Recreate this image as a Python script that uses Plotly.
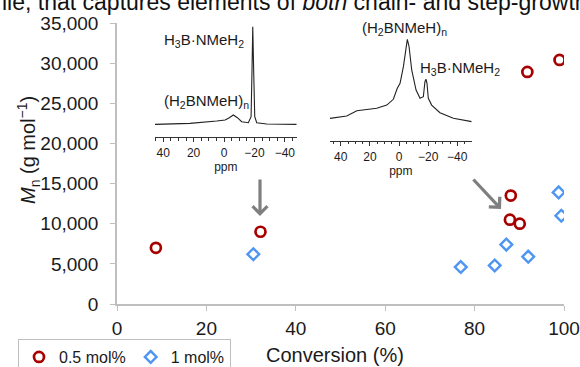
import plotly.graph_objects as go

# ---- main scatter data ----
red_x = [8.7, 32.1, 87.9, 88.1, 90.1, 91.8, 99.0]
red_y = [7000, 9000, 10500, 13500, 10000, 28900, 30400]
blue_x = [30.5, 76.9, 84.5, 87.1, 92.0, 98.8, 99.4]
blue_y = [6200, 4600, 4800, 7400, 5900, 13900, 11000]
series_names = ["0.5 mol%", "1 mol%"]
x_ticks = [0, 20, 40, 60, 80, 100]
y_ticks = [0, 5000, 10000, 15000, 20000, 25000, 30000, 35000]

# ---- inset spectra ----
spec1_ppm = [45.4, 22.4, 4.8, -0.7, -3.5, -6.1, -8.8, -11.6, -16.0, -17.8, -18.4, -18.9,
             -19.5, -20.2, -21.5, -28.1, -47.8]
spec1_int = [11.4, 12.3, 14.4, 15.3, 17.4, 19.8, 17.4, 13.8, 12.9, 18.3, 60, 99.4,
             60, 18.3, 12.9, 11.7, 11.4]
spec2_ppm = [47.4, 35.9, 29.0, 24.5, 15.3, 8.4, 3.9, 1.2, -0.7, -3.0, -4.6, -5.7, -6.9,
             -8.7, -11.7, -14.4, -16.7, -17.8, -18.5, -19.2, -20.1, -22.4, -28.1, -37.3, -49.9]
spec2_int = [20.2, 22.3, 27.1, 27.7, 29.3, 32.2, 37.4, 47.3, 51.9, 66.9, 84.9, 91.6, 84.9,
             63.9, 45.8, 38.3, 39.7, 53.3, 55.5, 51.9, 38.3, 32.2, 25.3, 20.2, 17.2]
ppm_ticks = [40, 20, 0, -20, -40]

RED = "#A80000"
BLUE = "#4F95F2"
AX = "#BFBFBF"
TXT = "#1a1a1a"
FONT = "Liberation Sans, Arial, sans-serif"

fig = go.Figure()
fig.add_trace(go.Scatter(x=red_x, y=red_y, mode="markers", name=series_names[0],
                         marker=dict(symbol="circle-open", size=10, color=RED,
                                     line=dict(width=2.7, color=RED))))
fig.add_trace(go.Scatter(x=blue_x, y=blue_y, mode="markers", name=series_names[1],
                         marker=dict(symbol="diamond-open", size=9, color=BLUE,
                                     line=dict(width=2.4, color=BLUE))))
fig.add_trace(go.Scatter(x=spec1_ppm, y=spec1_int, mode="lines", xaxis="x2", yaxis="y2",
                         line=dict(color="#222", width=1.1), showlegend=False, hoverinfo="skip"))
fig.add_trace(go.Scatter(x=spec2_ppm, y=spec2_int, mode="lines", xaxis="x3", yaxis="y3",
                         line=dict(color="#222", width=1.1), showlegend=False, hoverinfo="skip"))

W, H = 580, 367
L, R, T, B = 117, 16, 23, 63
pw, ph = W - L - R, H - T - B


def px_x(p):
    return (p - L) / pw


def px_y(p):
    return (H - B - p) / ph


inset_axis = dict(showline=True, linecolor="#333", linewidth=1, ticks="outside",
                  ticklen=4, tickcolor="#333", tickvals=ppm_ticks,
                  tickfont=dict(size=12, color=TXT, family=FONT),
                  minor=dict(dtick=5, tick0=0, ticks="outside", ticklen=2.5, tickcolor="#333"),
                  showgrid=False, zeroline=False, ticklabelstandoff=1, automargin=False,
                  title=dict(text="ppm", font=dict(size=12, color=TXT, family=FONT), standoff=0))

fig.update_layout(
    width=W, height=H,
    margin=dict(l=L, r=R, t=T, b=B, autoexpand=False),
    paper_bgcolor="white", plot_bgcolor="rgba(0,0,0,0)",
    font=dict(family=FONT, color=TXT),
    xaxis=dict(range=[0, 100], tickvals=x_ticks, ticks="outside", ticklen=5, tickcolor=AX,
               showline=True, linecolor=AX, linewidth=1.5, showgrid=False, zeroline=False,
               tickfont=dict(size=19, color=TXT), ticklabelstandoff=1, automargin=False),
    yaxis=dict(range=[0, 35000], tickvals=y_ticks, tickformat=",d", ticks="outside", ticklen=5,
               tickcolor=AX, showline=True, linecolor=AX, linewidth=1.5, showgrid=False,
               zeroline=False, tickfont=dict(size=19, color=TXT), ticklabelstandoff=8,
               automargin=False),
    xaxis2=dict(domain=[px_x(155), px_x(296.7)], range=[45.4, -47.8], anchor="y2", **inset_axis),
    yaxis2=dict(domain=[px_y(137), px_y(26)], range=[0, 100], anchor="x2", visible=False),
    xaxis3=dict(domain=[px_x(330), px_x(471.7)], range=[47.4, -49.9], anchor="y3", **inset_axis),
    yaxis3=dict(domain=[px_y(140.7), px_y(30)], range=[0, 100], anchor="x3", visible=False),
    showlegend=True,
    legend=dict(orientation="h", x=px_x(18), xanchor="left", y=px_y(339), yanchor="top",
                bordercolor=AX, borderwidth=1, bgcolor="white",
                font=dict(size=16, color=TXT), itemwidth=30, tracegroupgap=0),
)

ann = [
    dict(text="ile, that captures elements of <i>both</i> chain- and step-growth",
         x=px_x(0), y=px_y(2.5), xanchor="left", yanchor="middle", font=dict(size=23, color="#111")),
    dict(text="Conversion (%)", x=px_x(335), y=px_y(355), xanchor="center", yanchor="middle",
         font=dict(size=20, color=TXT)),
    dict(text="<i>M</i><sub>n</sub> (g mol<sup>−1</sup>)", x=px_x(28), y=px_y(150),
         textangle=-90, xanchor="center", yanchor="middle", font=dict(size=20, color=TXT)),
    dict(text="H<sub>3</sub>B·NMeH<sub>2</sub>", x=px_x(161.7), y=px_y(40.7), xanchor="left",
         yanchor="middle", font=dict(size=15, color=TXT)),
    dict(text="(H<sub>2</sub>BNMeH)<sub>n</sub>", x=px_x(161.7), y=px_y(101.7), xanchor="left",
         yanchor="middle", font=dict(size=15, color=TXT)),
    dict(text="(H<sub>2</sub>BNMeH)<sub>n</sub>", x=px_x(404), y=px_y(28.3), xanchor="center",
         yanchor="middle", font=dict(size=15, color=TXT)),
    dict(text="H<sub>3</sub>B·NMeH<sub>2</sub>", x=px_x(418), y=px_y(68.3), xanchor="left",
         yanchor="middle", font=dict(size=15, color=TXT)),
]
for a in ann:
    a.update(xref="paper", yref="paper", showarrow=False)

arrows = [
    dict(x=px_x(260), y=px_y(216), ax=0, ay=-38),
    dict(x=px_x(501), y=px_y(209), ax=-29, ay=-31),
]
for a in arrows:
    a.update(xref="paper", yref="paper", showarrow=True, text="", arrowhead=4,
             arrowsize=0.9, arrowwidth=3.2, arrowcolor="#7f7f7f")

fig.update_layout(annotations=ann + arrows)
fig.write_html("out.html", config=dict(displayModeBar=False),
               post_script="document.body.style.margin='0';document.body.style.overflow='hidden';")
